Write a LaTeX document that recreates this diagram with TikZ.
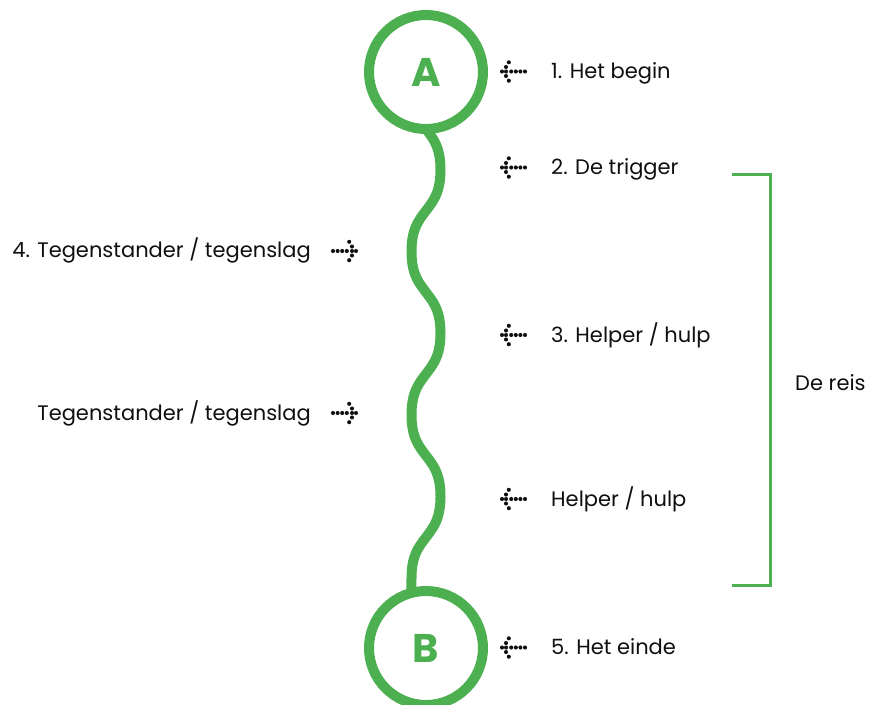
\documentclass[tikz,border=0pt]{standalone}
\usepackage{fontspec}
\setmainfont{Poppins}
\usetikzlibrary{calc}
\definecolor{grn}{RGB}{76,175,80}
\definecolor{ink}{RGB}{15,15,15}
\newcommand{\dotlist}{0/0,4/-4.5,4/0,4/4.5,6.8/-9.2,6.8/9.2,9.2/0,13.8/0,18.4/0,23/0}
\tikzset{
  ring/.style={circle, draw=grn, line width=10pt, minimum size=114pt, inner sep=0pt, outer sep=0pt,
    text=grn, font=\fontsize{40}{40}\selectfont\bfseries},
  wave/.style={draw=grn, line width=10pt, line join=round},
  lbl/.style={inner sep=0pt, font=\fontsize{21}{24}\selectfont, text=ink},
  bracketline/.style={draw=grn, line width=3pt},
  pics/dotsleft/.style={code={\foreach \a/\b in \dotlist {\fill[ink] (\a,\b) circle[radius=2.05pt];}}},
  pics/dotsright/.style={code={\foreach \a/\b in \dotlist {\fill[ink] (-\a,\b) circle[radius=2.05pt];}}},
}
\begin{document}
\begin{tikzpicture}[x=1pt,y=-1pt]
\useasboundingbox (0,0) rectangle (872,704);
\clip (0,0) rectangle (872,704);

% circles
\node[ring] (A) at (426,72) {A};
\node[ring] (B) at (426,648) {B};

% wavy path
\draw[wave] (A.south) -- plot[domain=129.5:578, samples=200, variable=\t]
  ({426+14.5*tanh(1.1*sin((\t-129)/163.3*360))/tanh(1.1)}, \t) -- (B.105);

% right-hand labels
\node[lbl, anchor=base west] (t1) at (551,78.5) {1. Het begin};
\node[lbl, anchor=base west] (t2) at (551,174) {2. De trigger};
\node[lbl, anchor=base west] (t3) at (551,342) {3. Helper / hulp};
\node[lbl, anchor=base west] (t3b) at (551,506) {Helper / hulp};
\node[lbl, anchor=base west] (t5) at (551,654) {5. Het einde};

\pic at (502,71.5) {dotsleft};
\pic at (502,167.5) {dotsleft};
\pic at (502,335) {dotsleft};
\pic at (502,499) {dotsleft};
\pic at (502,647.5) {dotsleft};

% left-hand labels
\node[lbl, anchor=base east] (t4) at (311,257.5) {4. Tegenstander / tegenslag};
\node[lbl, anchor=base east] (t4b) at (311,420.5) {Tegenstander / tegenslag};
\pic at (356,251) {dotsright};
\pic at (356,413) {dotsright};

% bracket
\coordinate (bt) at (732,174);
\coordinate (bb) at (732,585);
\draw[bracketline] (bt) -- (770,174) -- (770,585) -- (bb);
\node[lbl, anchor=base west] (reis) at (795,390) {De reis};
\end{tikzpicture}
\end{document}
